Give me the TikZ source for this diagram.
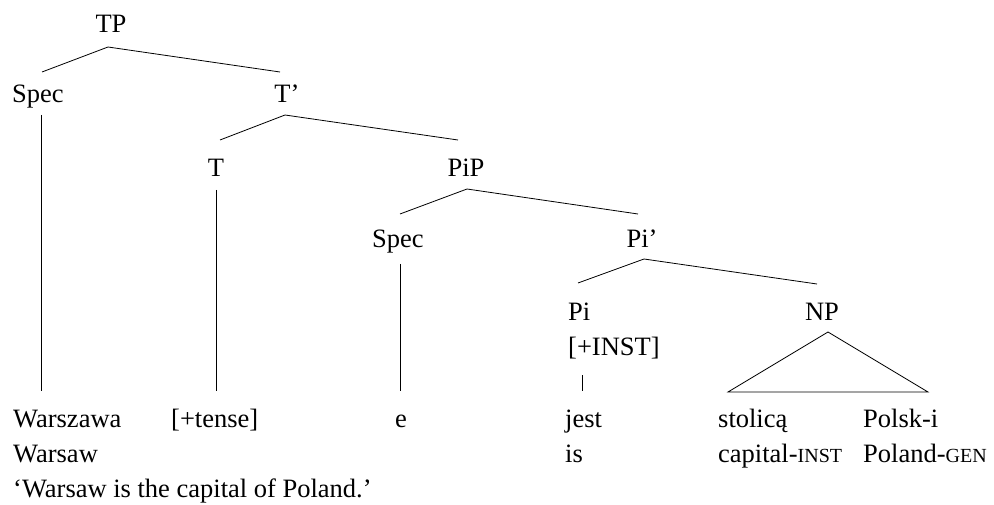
\documentclass[tikz,border=0pt]{standalone}
\usepackage{fontspec}
\setmainfont{Liberation Serif}
\newcommand{\smc}[1]{{\fontsize{20}{20}\selectfont #1}}
\begin{document}
\begin{tikzpicture}[x=1pt,y=-1pt,
  lbl/.style={inner sep=0pt,anchor=base west,font=\fontsize{26.5}{30}\selectfont},
  clbl/.style={inner sep=0pt,anchor=base,font=\fontsize{26.5}{30}\selectfont},
  edge/.style={line width=0.8pt,black}]
\useasboundingbox (0,0) rectangle (994,505);
% labels
\node[clbl] (TP) at (111,33) {TP};
\node[lbl] (Spec1) at (12,103) {Spec};
\node[clbl] (Tbar) at (287,103) {T’};
\node[clbl] (T) at (216,177) {T};
\node[clbl] (PiP) at (466,177) {PiP};
\node[lbl] (Spec2) at (372,248) {Spec};
\node[clbl] (Pibar) at (642,248) {Pi’};
\node[lbl] (Pi) at (568,320) {Pi};
\node[lbl] (INST) at (568,355) {[+INST]};
\node[clbl] (NP) at (822,320) {NP};
% words
\node[lbl] (w1) at (13,427) {Warszawa};
\node[lbl] (w2) at (171,427) {[+tense]};
\node[lbl] (w3) at (395,427) {e};
\node[lbl] (w4) at (565,427) {jest};
\node[lbl] (w5) at (718,427) {stolicą};
\node[lbl] (w6) at (863,427) {Polsk-i};
\node[lbl] (g1) at (13,462) {Warsaw};
\node[lbl] (g4) at (565,462) {is};
\node[lbl] (g5) at (718,462) {capital-\smc{INST}};
\node[lbl] (g6) at (863,462) {Poland-\smc{GEN}};
\node[lbl] (tr) at (13,497) {‘Warsaw is the capital of Poland.’};
% branch points
\coordinate (a0) at (108,47);  \coordinate (a1) at (42,72);  \coordinate (a2) at (280,72);
\coordinate (b0) at (285,115); \coordinate (b1) at (220,140); \coordinate (b2) at (458,140);
\coordinate (c0) at (467,189); \coordinate (c1) at (400,214); \coordinate (c2) at (638,214);
\coordinate (d0) at (644,259); \coordinate (d1) at (578,283); \coordinate (d2) at (817,284);
\coordinate (n0) at (828,332); \coordinate (n1) at (728,392); \coordinate (n2) at (928,392);
\coordinate (s1t) at (41,115);  \coordinate (s1b) at (41,391);
\coordinate (tt) at (216,190);  \coordinate (tb) at (216,391);
\coordinate (s2t) at (400,264); \coordinate (s2b) at (400,391);
\coordinate (pt) at (582,375);  \coordinate (pb) at (582,391);
\draw[edge] (a1) -- (a0) -- (a2);
\draw[edge] (b1) -- (b0) -- (b2);
\draw[edge] (c1) -- (c0) -- (c2);
\draw[edge] (d1) -- (d0) -- (d2);
\draw[edge] (n0) -- (n1) -- (n2) -- cycle;
\draw[edge] (s1t) -- (s1b);
\draw[edge] (tt) -- (tb);
\draw[edge] (s2t) -- (s2b);
\draw[edge] (pt) -- (pb);
\end{tikzpicture}
\end{document}
